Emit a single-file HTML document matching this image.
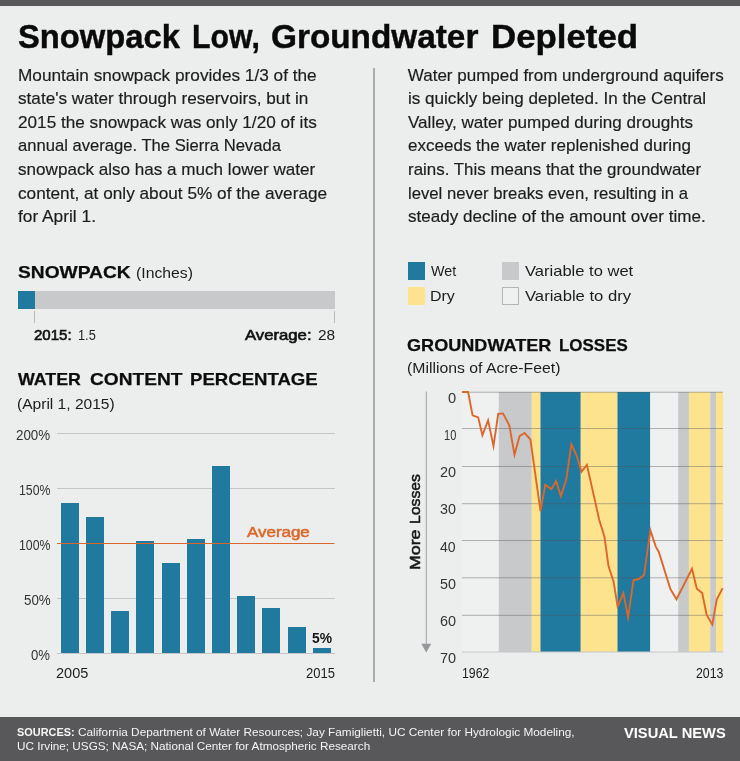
<!DOCTYPE html>
<html><head><meta charset="utf-8"><title>Snowpack Low, Groundwater Depleted</title>
<style>
html,body{margin:0;padding:0;}
body{width:740px;height:761px;position:relative;overflow:hidden;background:#eceeed;font-family:"Liberation Sans",sans-serif;}
.t{position:absolute;white-space:pre;line-height:1;transform-origin:0 0;}
.b{position:absolute;}
#tx{position:absolute;left:0;top:0;width:740px;height:761px;will-change:transform;}
</style></head><body>
<div class="b" style="left:0.00px;top:0.00px;width:740.00px;height:5.50px;background:#58585a;"></div>
<div class="b" style="left:0.00px;top:716.50px;width:740.00px;height:44.50px;background:#58585a;"></div>
<div class="b" style="left:373.20px;top:67.50px;width:1.50px;height:614.20px;background:#a9abae;"></div>
<div class="b" style="left:17.50px;top:291.00px;width:317.00px;height:18.00px;background:#c8c9cb;"></div>
<div class="b" style="left:17.50px;top:291.00px;width:17.50px;height:18.00px;background:#20799e;"></div>
<div class="b" style="left:34.20px;top:311.00px;width:1.00px;height:12.00px;background:#b9bbbd;"></div>
<div class="b" style="left:334.20px;top:311.00px;width:1.00px;height:12.00px;background:#b9bbbd;"></div>
<div class="b" style="left:57.00px;top:432.65px;width:277.50px;height:1.20px;background:#c3c5c6;"></div>
<div class="b" style="left:57.00px;top:487.90px;width:277.50px;height:1.20px;background:#c3c5c6;"></div>
<div class="b" style="left:57.00px;top:542.90px;width:277.50px;height:1.20px;background:#c3c5c6;"></div>
<div class="b" style="left:57.00px;top:597.90px;width:277.50px;height:1.20px;background:#c3c5c6;"></div>
<div class="b" style="left:57.00px;top:652.65px;width:277.50px;height:1.20px;background:#c3c5c6;"></div>
<div class="b" style="left:60.75px;top:503.00px;width:18.00px;height:150.25px;background:#20799e;"></div>
<div class="b" style="left:85.95px;top:516.50px;width:18.00px;height:136.75px;background:#20799e;"></div>
<div class="b" style="left:111.15px;top:610.50px;width:18.00px;height:42.75px;background:#20799e;"></div>
<div class="b" style="left:136.35px;top:540.75px;width:18.00px;height:112.50px;background:#20799e;"></div>
<div class="b" style="left:161.55px;top:562.50px;width:18.00px;height:90.75px;background:#20799e;"></div>
<div class="b" style="left:186.75px;top:539.00px;width:18.00px;height:114.25px;background:#20799e;"></div>
<div class="b" style="left:211.95px;top:465.50px;width:18.00px;height:187.75px;background:#20799e;"></div>
<div class="b" style="left:237.15px;top:595.75px;width:18.00px;height:57.50px;background:#20799e;"></div>
<div class="b" style="left:262.35px;top:608.00px;width:18.00px;height:45.25px;background:#20799e;"></div>
<div class="b" style="left:287.55px;top:626.75px;width:18.00px;height:26.50px;background:#20799e;"></div>
<div class="b" style="left:312.75px;top:648.00px;width:18.00px;height:5.25px;background:#20799e;"></div>
<div class="b" style="left:57.00px;top:542.65px;width:277.40px;height:1.20px;background:#dc672b;"></div>
<div class="b" style="left:408.00px;top:262.00px;width:17.00px;height:17.50px;background:#20799e;"></div>
<div class="b" style="left:408.00px;top:286.75px;width:17.00px;height:17.75px;background:#fde38e;"></div>
<div class="b" style="left:501.75px;top:262.00px;width:17.00px;height:17.50px;background:#c8c9cb;"></div>
<div class="b" style="left:501.75px;top:286.75px;width:17.00px;height:17.75px;background:#eff0f0;box-sizing:border-box;border:1px solid #b4b5b7;"></div>
<svg class="b" style="left:0;top:0" width="740" height="761" viewBox="0 0 740 761"><rect x="462" y="392" width="36.75" height="260" fill="#eff0f0"/><rect x="498.75" y="392" width="33.00" height="260" fill="#c8c9cb"/><rect x="531.75" y="392" width="8.75" height="260" fill="#fde38e"/><rect x="540.5" y="392" width="40.25" height="260" fill="#20799e"/><rect x="580.75" y="392" width="36.75" height="260" fill="#fde38e"/><rect x="617.5" y="392" width="32.75" height="260" fill="#20799e"/><rect x="650.25" y="392" width="28.00" height="260" fill="#eff0f0"/><rect x="678.25" y="392" width="10.65" height="260" fill="#c8c9cb"/><rect x="688.9" y="392" width="21.35" height="260" fill="#fde38e"/><rect x="710.25" y="392" width="5.85" height="260" fill="#c8c9cb"/><rect x="716.1" y="392" width="6.90" height="260" fill="#fde38e"/><rect x="462" y="391.70" width="261" height="1" fill="#50555a" fill-opacity="0.42"/><rect x="462" y="428.00" width="261" height="1" fill="#50555a" fill-opacity="0.42"/><rect x="462" y="466.00" width="261" height="1" fill="#50555a" fill-opacity="0.42"/><rect x="462" y="503.20" width="261" height="1" fill="#50555a" fill-opacity="0.42"/><rect x="462" y="540.00" width="261" height="1" fill="#50555a" fill-opacity="0.42"/><rect x="462" y="577.30" width="261" height="1" fill="#50555a" fill-opacity="0.42"/><rect x="462" y="614.80" width="261" height="1" fill="#50555a" fill-opacity="0.42"/><rect x="462" y="651.50" width="261" height="1" fill="#c6c7c9"/><rect x="425.75" y="391.5" width="1.1" height="254" fill="#a3a5a8"/><polygon points="421.25,643.75 431.25,643.75 426.25,652.4" fill="#96989b"/><polyline fill="none" stroke="#dc672b" stroke-width="1.9" stroke-linejoin="miter" stroke-miterlimit="6" points="462,392 468.1,392 472.6,415.4 478.2,417.4 482.4,435.3 488.1,420.4 493.5,446.1 498.2,413.8 503,413.4 509.3,425.3 514.5,454.6 519.6,436.1 524.6,433 530.4,439.4 540.5,511.1 545.3,484.7 551.4,489.2 556.1,481.1 560.9,496.2 566.3,479.3 571.4,444.2 576.8,456 581.5,471.7 586.9,464.8 599.2,519.7 604.5,537 608.5,566.1 613.6,581.7 617.6,606.6 623.4,593.1 628.1,617.4 633.5,580.2 638.7,579 644,575.3 650.4,530.4 655.8,546.6 658.8,552 670.4,589 676.5,599.2 692,568.8 696.8,588.8 702.2,593.1 706.6,614.7 712.3,624.6 716.8,599.2 722.7,588.1"/></svg>
<div id="tx">
<span class="t" style="left:17.56px;top:17.00px;font-size:34px;line-height:38px;font-weight:700;color:#0a0a0a;transform:scaleX(0.9628);-webkit-text-stroke:0.45px #0a0a0a;">Snowpack</span>
<span class="t" style="left:191.73px;top:17.00px;font-size:34px;line-height:38px;font-weight:700;color:#0a0a0a;transform:scaleX(0.8901);-webkit-text-stroke:0.45px #0a0a0a;">Low,</span>
<span class="t" style="left:271.13px;top:17.00px;font-size:34px;line-height:38px;font-weight:700;color:#0a0a0a;transform:scaleX(0.9801);-webkit-text-stroke:0.45px #0a0a0a;">Groundwater</span>
<span class="t" style="left:490.67px;top:17.00px;font-size:34px;line-height:38px;font-weight:700;color:#0a0a0a;transform:scaleX(1.0246);-webkit-text-stroke:0.45px #0a0a0a;">Depleted</span>
<span class="t" style="left:17.60px;top:66.00px;font-size:17px;line-height:19px;color:#1c1c1c;transform:scaleX(1.0130);-webkit-text-stroke:0.18px #1e1e1e;">Mountain snowpack provides 1/3 of the</span>
<span class="t" style="left:17.60px;top:89.00px;font-size:17px;line-height:19px;color:#1c1c1c;transform:scaleX(1.0091);-webkit-text-stroke:0.18px #1e1e1e;">state's water through reservoirs, but in</span>
<span class="t" style="left:17.60px;top:113.00px;font-size:17px;line-height:19px;color:#1c1c1c;transform:scaleX(1.0101);-webkit-text-stroke:0.18px #1e1e1e;">2015 the snowpack was only 1/20 of its</span>
<span class="t" style="left:17.60px;top:136.00px;font-size:17px;line-height:19px;color:#1c1c1c;transform:scaleX(0.9772);-webkit-text-stroke:0.18px #1e1e1e;">annual average. The Sierra Nevada</span>
<span class="t" style="left:17.60px;top:160.00px;font-size:17px;line-height:19px;color:#1c1c1c;transform:scaleX(1.0048);-webkit-text-stroke:0.18px #1e1e1e;">snowpack also has a much lower water</span>
<span class="t" style="left:17.60px;top:184.00px;font-size:17px;line-height:19px;color:#1c1c1c;transform:scaleX(1.0127);-webkit-text-stroke:0.18px #1e1e1e;">content, at only about 5% of the average</span>
<span class="t" style="left:17.60px;top:207.00px;font-size:17px;line-height:19px;color:#1c1c1c;transform:scaleX(1.0187);-webkit-text-stroke:0.18px #1e1e1e;">for April 1.</span>
<span class="t" style="left:407.80px;top:66.00px;font-size:17px;line-height:19px;color:#1c1c1c;-webkit-text-stroke:0.18px #1e1e1e;">Water pumped from underground aquifers</span>
<span class="t" style="left:407.80px;top:89.00px;font-size:17px;line-height:19px;color:#1c1c1c;transform:scaleX(1.0047);-webkit-text-stroke:0.18px #1e1e1e;">is quickly being depleted. In the Central</span>
<span class="t" style="left:407.80px;top:113.00px;font-size:17px;line-height:19px;color:#1c1c1c;transform:scaleX(1.0042);-webkit-text-stroke:0.18px #1e1e1e;">Valley, water pumped during droughts</span>
<span class="t" style="left:407.80px;top:136.00px;font-size:17px;line-height:19px;color:#1c1c1c;transform:scaleX(1.0011);-webkit-text-stroke:0.18px #1e1e1e;">exceeds the water replenished during</span>
<span class="t" style="left:407.80px;top:160.00px;font-size:17px;line-height:19px;color:#1c1c1c;transform:scaleX(0.9951);-webkit-text-stroke:0.18px #1e1e1e;">rains. This means that the groundwater</span>
<span class="t" style="left:407.80px;top:184.00px;font-size:17px;line-height:19px;color:#1c1c1c;transform:scaleX(0.9811);-webkit-text-stroke:0.18px #1e1e1e;">level never breaks even, resulting in a</span>
<span class="t" style="left:407.80px;top:207.00px;font-size:17px;line-height:19px;color:#1c1c1c;transform:scaleX(1.0034);-webkit-text-stroke:0.18px #1e1e1e;">steady decline of the amount over time.</span>
<span class="t" style="left:17.85px;top:263.00px;font-size:17px;line-height:19px;font-weight:700;color:#0d0d0d;transform:scaleX(1.1296);-webkit-text-stroke:0.25px #0d0d0d;">SNOWPACK</span>
<span class="t" style="left:136.02px;top:265.00px;font-size:14.5px;line-height:16px;color:#1c1c1c;transform:scaleX(1.0871);">(Inches)</span>
<span class="t" style="left:34.24px;top:327.00px;font-size:14.5px;line-height:16px;color:#111;transform:scaleX(1.0367);-webkit-text-stroke:0.6px #111;">2015:</span>
<span class="t" style="left:77.78px;top:327.00px;font-size:14.5px;line-height:16px;color:#1c1c1c;transform:scaleX(0.8804);">1.5</span>
<span class="t" style="left:244.97px;top:327.00px;font-size:14.5px;line-height:16px;color:#111;transform:scaleX(1.1519);-webkit-text-stroke:0.6px #111;">Average:</span>
<span class="t" style="left:317.97px;top:327.00px;font-size:14.5px;line-height:16px;color:#1c1c1c;transform:scaleX(1.0655);">28</span>
<span class="t" style="left:18.48px;top:370.00px;font-size:17px;line-height:19px;font-weight:700;color:#0d0d0d;transform:scaleX(1.0459);-webkit-text-stroke:0.25px #0d0d0d;">WATER</span>
<span class="t" style="left:89.72px;top:370.00px;font-size:17px;line-height:19px;font-weight:700;color:#0d0d0d;transform:scaleX(1.1256);-webkit-text-stroke:0.25px #0d0d0d;">CONTENT</span>
<span class="t" style="left:190.01px;top:370.00px;font-size:17px;line-height:19px;font-weight:700;color:#0d0d0d;transform:scaleX(1.0934);-webkit-text-stroke:0.25px #0d0d0d;">PERCENTAGE</span>
<span class="t" style="left:17.04px;top:395.00px;font-size:15.3px;line-height:17px;color:#1c1c1c;transform:scaleX(1.0167);">(April 1, 2015)</span>
<span class="t" style="left:16.33px;top:427.00px;font-size:14px;line-height:16px;color:#333;transform:scaleX(0.9535);">200%</span>
<span class="t" style="left:19.07px;top:482.00px;font-size:14px;line-height:16px;color:#333;transform:scaleX(0.8760);">150%</span>
<span class="t" style="left:19.07px;top:537.00px;font-size:14px;line-height:16px;color:#333;transform:scaleX(0.8760);">100%</span>
<span class="t" style="left:23.71px;top:592.00px;font-size:14px;line-height:16px;color:#333;transform:scaleX(0.9547);">50%</span>
<span class="t" style="left:31.49px;top:647.00px;font-size:14px;line-height:16px;color:#333;transform:scaleX(0.9381);">0%</span>
<span class="t" style="left:246.57px;top:523.00px;font-size:15.3px;line-height:17px;color:#dc672b;transform:scaleX(1.1073);-webkit-text-stroke:0.55px #dc672b;">Average</span>
<span class="t" style="left:311.57px;top:629.00px;font-size:15px;line-height:17px;font-weight:700;color:#141414;transform:scaleX(0.9241);">5%</span>
<span class="t" style="left:56.27px;top:665.00px;font-size:14.5px;line-height:16px;color:#1c1c1c;transform:scaleX(1.0023);">2005</span>
<span class="t" style="left:306.10px;top:665.00px;font-size:14.5px;line-height:16px;color:#1c1c1c;transform:scaleX(0.8973);">2015</span>
<span class="t" style="left:431.19px;top:263.00px;font-size:14.5px;line-height:16px;color:#1c1c1c;transform:scaleX(0.9858);">Wet</span>
<span class="t" style="left:430.19px;top:288.00px;font-size:14.5px;line-height:16px;color:#1c1c1c;transform:scaleX(1.1010);">Dry</span>
<span class="t" style="left:524.93px;top:263.00px;font-size:14.5px;line-height:16px;color:#1c1c1c;transform:scaleX(1.1408);">Variable to wet</span>
<span class="t" style="left:524.93px;top:288.00px;font-size:14.5px;line-height:16px;color:#1c1c1c;transform:scaleX(1.1481);">Variable to dry</span>
<span class="t" style="left:407.26px;top:336.00px;font-size:17px;line-height:19px;font-weight:700;color:#0d0d0d;transform:scaleX(1.0639);-webkit-text-stroke:0.25px #0d0d0d;">GROUNDWATER</span>
<span class="t" style="left:558.87px;top:336.00px;font-size:17px;line-height:19px;font-weight:700;color:#0d0d0d;transform:scaleX(0.9975);-webkit-text-stroke:0.25px #0d0d0d;">LOSSES</span>
<span class="t" style="left:407.02px;top:359.00px;font-size:15px;line-height:17px;color:#1c1c1c;transform:scaleX(1.0520);">(Millions of Acre-Feet)</span>
<span class="t" style="left:447.93px;top:390.00px;font-size:14.5px;line-height:16px;color:#333;transform:scaleX(1.0079);">0</span>
<span class="t" style="left:443.66px;top:427.00px;font-size:14.5px;line-height:16px;color:#333;transform:scaleX(0.7602);">10</span>
<span class="t" style="left:439.97px;top:464.00px;font-size:14.5px;line-height:16px;color:#333;transform:scaleX(0.9970);">20</span>
<span class="t" style="left:440.16px;top:501.00px;font-size:14.5px;line-height:16px;color:#333;transform:scaleX(0.9852);">30</span>
<span class="t" style="left:440.38px;top:539.00px;font-size:14.5px;line-height:16px;color:#333;transform:scaleX(0.9710);">40</span>
<span class="t" style="left:440.13px;top:576.00px;font-size:14.5px;line-height:16px;color:#333;transform:scaleX(0.9871);">50</span>
<span class="t" style="left:439.97px;top:613.00px;font-size:14.5px;line-height:16px;color:#333;transform:scaleX(0.9974);">60</span>
<span class="t" style="left:439.96px;top:650.00px;font-size:14.5px;line-height:16px;color:#333;transform:scaleX(0.9979);">70</span>
<span class="t" style="left:461.57px;top:665.00px;font-size:14.5px;line-height:16px;color:#1c1c1c;transform:scaleX(0.8462);">1962</span>
<span class="t" style="left:695.63px;top:665.00px;font-size:14.5px;line-height:16px;color:#1c1c1c;transform:scaleX(0.8495);">2013</span>
<span class="t" style="left:17.19px;top:725.00px;font-size:11.7px;line-height:13px;font-weight:700;color:#f6f6f6;transform:scaleX(0.9338);">SOURCES:</span>
<span class="t" style="left:78.15px;top:725.00px;font-size:11.75px;line-height:13px;color:#f4f4f4;transform:scaleX(1.0042);">California Department of Water Resources; Jay Famiglietti, UC Center for Hydrologic Modeling,</span>
<span class="t" style="left:16.60px;top:739.00px;font-size:11.75px;line-height:13px;color:#f4f4f4;transform:scaleX(0.9978);">UC Irvine; USGS; NASA; National Center for Atmospheric Research</span>
<span class="t" style="left:624.40px;top:724.00px;font-size:15px;line-height:17px;font-weight:700;color:#fff;transform:scaleX(0.9785);">VISUAL NEWS</span>
<span class="t" style="left:0;top:0;font-size:15.5px;line-height:17px;font-weight:400;color:#161616;-webkit-text-stroke:0.55px #161616;transform-origin:0 0;transform:translate(405.80px,569.95px) rotate(-90deg) scaleX(1.1418);">More</span>
<span class="t" style="left:0;top:0;font-size:15.5px;line-height:17px;font-weight:400;color:#161616;-webkit-text-stroke:0.55px #161616;transform-origin:0 0;transform:translate(405.80px,523.99px) rotate(-90deg) scaleX(1.0171);">Losses</span>

</div>
</body></html>
